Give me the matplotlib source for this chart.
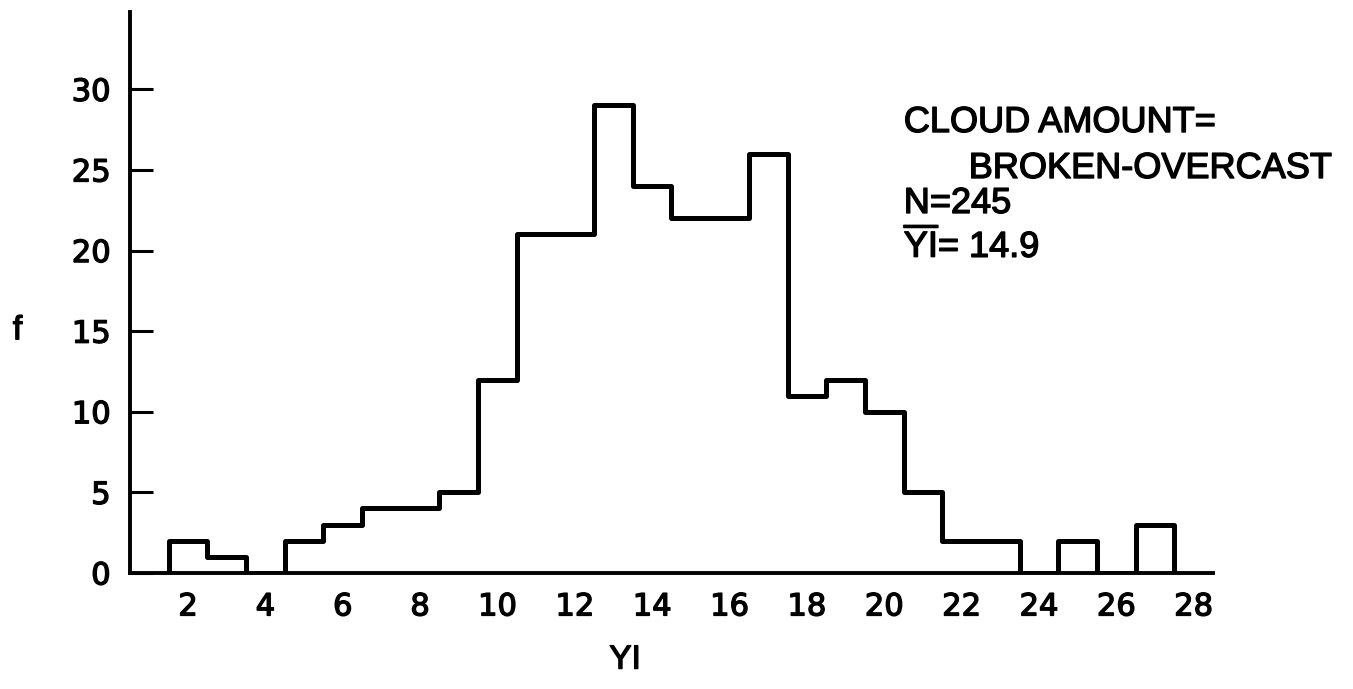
#
# Histogram of YI for cloud amount broken-overcast

import matplotlib
matplotlib.use("Agg")
import matplotlib.pyplot as plt
import matplotlib.patheffects as pe

plt.rcParams['font.family'] = ['Liberation Sans', 'DejaVu Sans']
plt.rcParams['mathtext.fontset'] = 'custom'
plt.rcParams['mathtext.rm'] = 'Liberation Sans'

# bin centres and counts
yi_values = [2, 3, 4, 5, 6, 7, 8, 9, 10, 11, 12, 13, 14, 15, 16, 17, 18, 19,
             20, 21, 22, 23, 24, 25, 26, 27]
counts = [2, 1, 0, 2, 3, 4, 4, 5, 12, 21, 21, 29, 24, 22, 22, 26, 11, 12,
          10, 5, 2, 2, 0, 2, 0, 3]
x_ticks = [2, 4, 6, 8, 10, 12, 14, 16, 18, 20, 22, 24, 26, 28]
y_ticks = [0, 5, 10, 15, 20, 25, 30]

edges = [v - 0.5 for v in yi_values] + [yi_values[-1] + 0.5]

# thicker strokes, like the hand lettering
thick = [pe.withStroke(linewidth=1.0, foreground='black')]

fig = plt.figure(figsize=(13.53, 6.89), dpi=100)
ax = fig.add_axes([0.0961, 0.1684, 0.8004, 0.8142])

ax.stairs(counts, edges, baseline=0, color='black', linewidth=3.6,
          joinstyle='round')

ax.set_xlim(0.5, 28.5)
ax.set_ylim(0, 34.8)
ax.spines['top'].set_visible(False)
ax.spines['right'].set_visible(False)
ax.spines['left'].set_linewidth(2.8)
ax.spines['bottom'].set_linewidth(2.8)

ax.set_xticks(x_ticks)
ax.set_yticks(y_ticks)
ax.tick_params(axis='x', length=0, pad=14, labelsize=22)
ax.tick_params(axis='y', direction='in', length=16.5, width=2.2, pad=14,
               labelsize=22)
for lab in ax.get_xticklabels() + ax.get_yticklabels():
    lab.set_family('DejaVu Sans')
    lab.set_path_effects(thick)

fig.text(0.462, 0.042, 'YI', fontsize=24, ha='center', va='center',
         path_effects=thick)
fig.text(0.013, 0.52, 'f', fontsize=24, ha='center', va='center',
         path_effects=thick)

fs = 26
fig.text(0.668, 0.8084, 'CLOUD AMOUNT=', fontsize=fs, va='baseline',
         path_effects=thick)
fig.text(0.716, 0.7417, 'BROKEN-OVERCAST', fontsize=fs, va='baseline',
         path_effects=thick)
fig.text(0.668, 0.6909, 'N=245', fontsize=fs, va='baseline',
         path_effects=thick)
fig.text(0.668, 0.6270, r'$\overline{\mathrm{YI}}$= 14.9', fontsize=fs,
         va='baseline', path_effects=thick)

plt.savefig('out.png')
